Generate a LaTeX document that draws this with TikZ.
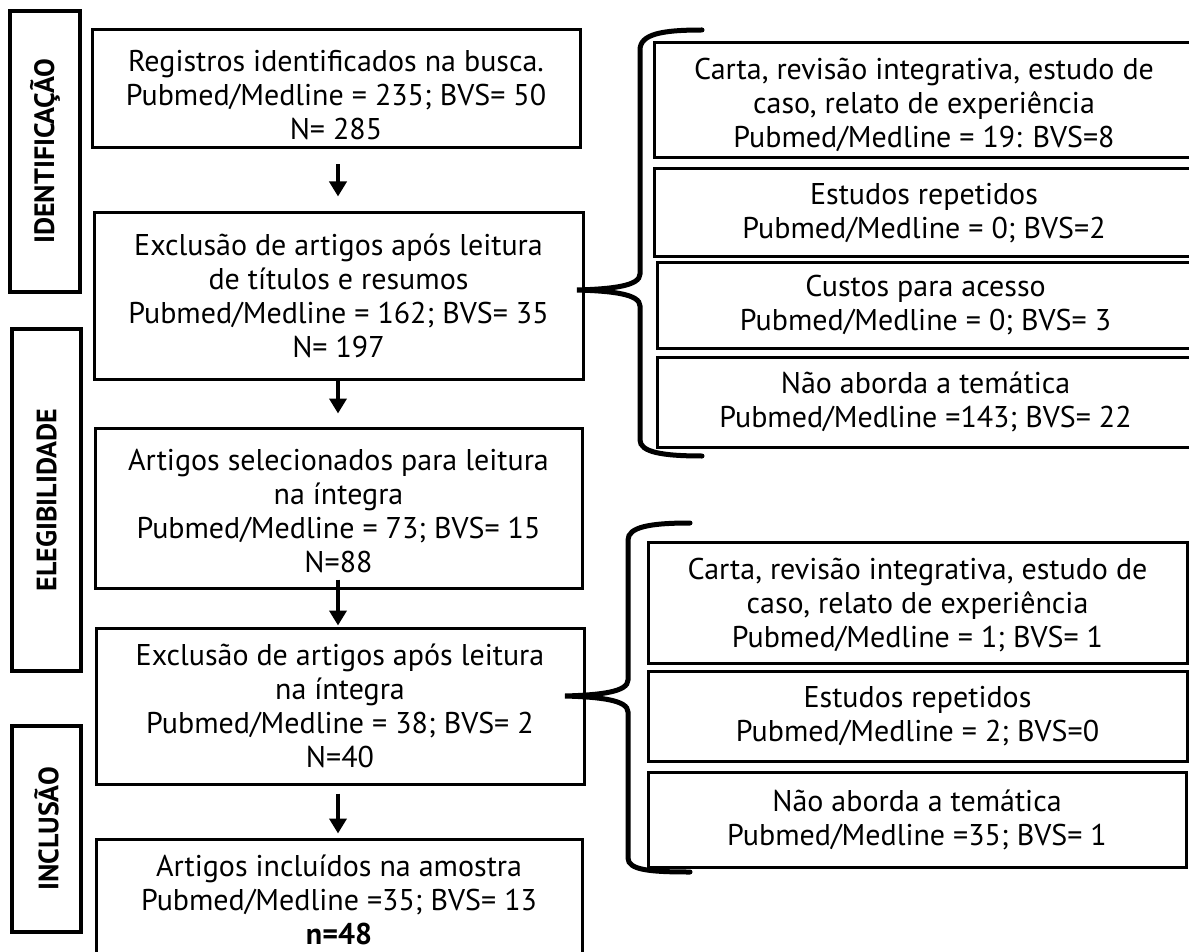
\documentclass[tikz,border=0pt]{standalone}
\usepackage{fontspec}
\setmainfont{PT Sans}
\usetikzlibrary{arrows.meta}
\newcommand\mainfs{\fontsize{30}{34}\selectfont}
\newcommand\labfs{\fontsize{28}{30}\selectfont\bfseries}
\begin{document}
\begin{tikzpicture}[x=1pt,y=-1pt,
  box/.style={draw, line width=3pt, inner sep=0pt, align=center, font=\mainfs},
  txt/.style={inner sep=0pt, align=center, font=\mainfs},
  labbox/.style={draw, line width=3.5pt, inner sep=0pt, rotate=90, font=\labfs},
  arr/.style={line width=4pt, -{Triangle[length=15pt,width=17pt]}},
  brace/.style={line width=5pt, line cap=round}]
\useasboundingbox (0,0) rectangle (1189,952);
\clip (0,0) rectangle (1189,952);
% left stage labels
\node[labbox, minimum width=281, minimum height=70] (lid) at (45,151.5) {IDENTIFICAÇÃO};
\node[labbox, minimum width=342, minimum height=69] (lel) at (46.5,500) {ELEGIBILIDADE};
\node[labbox, minimum width=206, minimum height=69] (lin) at (46.5,829) {INCLUSÃO};
% main column
\node[box, minimum width=488, minimum height=118] (b1) at (336,89) {};
\node[txt] (b1t) at (336,95) {Registros identificados na busca.\\Pubmed/Medline = 235; BVS= 50\\N= 285};
\node[box, minimum width=489, minimum height=166] (b2) at (338.5,296) {Exclusão de artigos após leitura\\de títulos e resumos\\Pubmed/Medline = 162; BVS= 35\\N= 197};
\node[box, minimum width=487, minimum height=160] (b3) at (338.5,508) {};
\node[txt] (b3t) at (338.5,511) {Artigos selecionados para leitura\\na íntegra\\Pubmed/Medline = 73; BVS= 15\\N=88};
\node[box, minimum width=488, minimum height=156] (b4) at (340,706) {Exclusão de artigos após leitura\\na íntegra\\Pubmed/Medline = 38; BVS= 2\\N=40};
\node[box, minimum width=486, minimum height=122] (b5) at (339,900) {Artigos incluídos na amostra\\Pubmed/Medline =35; BVS= 13\\\textbf{n=48}};
% right group 1
\node[box, minimum width=540, minimum height=115] (r1) at (924,100.5) {};
\node[txt] (r1t) at (924,105) {Carta, revisão integrativa, estudo de\\caso, relato de experiência\\Pubmed/Medline = 19: BVS=8};
\node[box, minimum width=540, minimum height=88] (r2) at (924,213) {Estudos repetidos\\Pubmed/Medline = 0; BVS=2};
\node[box, minimum width=537, minimum height=85] (r3) at (925.5,305.5) {Custos para acesso\\Pubmed/Medline = 0; BVS= 3};
\node[box, minimum width=537, minimum height=90] (r4) at (925.5,402) {Não aborda a temática\\Pubmed/Medline =143; BVS= 22};
% right group 2
\node[box, minimum width=539, minimum height=121] (r5) at (917.5,602.5) {};
\node[txt] (r5t) at (917.5,605) {Carta, revisão integrativa, estudo de\\caso, relato de experiência\\Pubmed/Medline = 1; BVS= 1};
\node[box, minimum width=539, minimum height=90] (r6) at (917.5,716) {Estudos repetidos\\Pubmed/Medline = 2; BVS=0};
\node[box, minimum width=538, minimum height=95] (r7) at (917,819.5) {Não aborda a temática\\Pubmed/Medline =35; BVS= 1};
% arrows
\coordinate (ax) at (338,0);
\draw[arr, shorten <=15pt, shorten >=15pt] (b1.south -| ax) -- (b2.north -| ax);
\draw[arr, shorten >=13pt] (b2.south -| ax) -- (b3.north -| ax);
\draw[arr, shorten <=-10pt, shorten >=1pt] (b3.south -| ax) -- (b4.north -| ax);
\draw[arr, shorten <=8pt, shorten >=4pt] (b4.south -| ax) -- (b5.north -| ax);
% braces
\coordinate (t1) at (577,290);
\coordinate (t2) at (565,696);
\draw[brace] (702,30) .. controls (662,30) and (640,34) .. (640,50) -- (640,274)
  .. controls (640,286) and (612,289) .. (t1)
  .. controls (612,291) and (640,294) .. (640,306) -- (640,440)
  .. controls (640,452) and (662,456) .. (702,456);
\draw[brace] (690,523) .. controls (650,523) and (628,527) .. (628,540) -- (628,680)
  .. controls (628,692) and (600,695) .. (t2)
  .. controls (600,697) and (628,700) .. (628,712) -- (628,858)
  .. controls (628,870) and (650,872) .. (690,872);
\end{tikzpicture}
\end{document}
